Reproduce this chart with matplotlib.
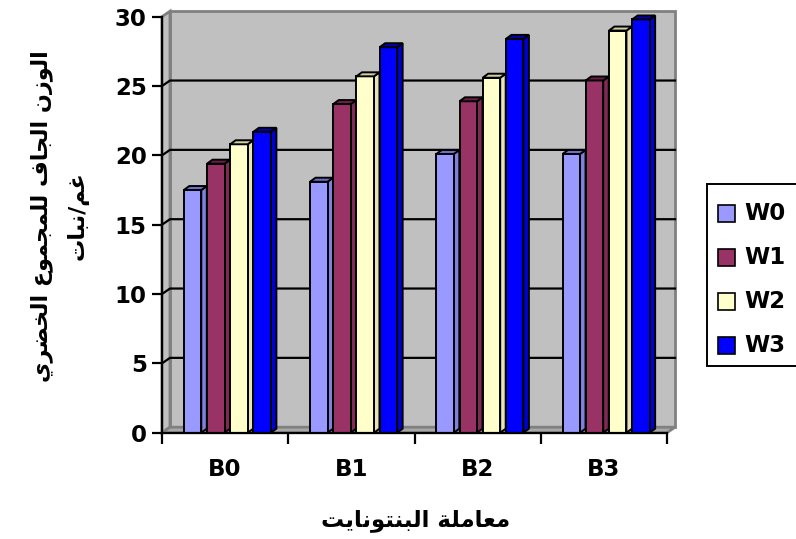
import matplotlib
matplotlib.use("Agg")
import matplotlib.pyplot as plt
from matplotlib.patches import Polygon, Rectangle

groups = ['B0', 'B1', 'B2', 'B3']
series = ['W0', 'W1', 'W2', 'W3']
w0 = [17.5, 18.1, 20.1, 20.1]
w1 = [19.4, 23.7, 23.9, 25.4]
w2 = [20.8, 25.7, 25.6, 29.0]
w3 = [21.7, 27.8, 28.4, 29.8]
values = [w0, w1, w2, w3]
yticks = [0, 5, 10, 15, 20, 25, 30]

ylabel_1 = 'الوزن الجاف للمجموع الخضري'
ylabel_2 = 'غم/نبات'
xlabel = 'معاملة البنتونايت'

# face, side, top colours
colors = [('#9999FF', '#8080E0', '#7070C8'),
          ('#993366', '#802A55', '#6A2046'),
          ('#FFFFCC', '#E4E4B6', '#CFCFA2'),
          ('#0000FF', '#0000D6', '#0000B0')]

# arabic presentation forms: isolated, final, initial, medial
FORMS = {
    'ا': ('\uFE8D', '\uFE8E', None, None),
    'ب': ('\uFE8F', '\uFE90', '\uFE91', '\uFE92'),
    'ة': ('\uFE93', '\uFE94', None, None),
    'ت': ('\uFE95', '\uFE96', '\uFE97', '\uFE98'),
    'ج': ('\uFE9D', '\uFE9E', '\uFE9F', '\uFEA0'),
    'خ': ('\uFEA5', '\uFEA6', '\uFEA7', '\uFEA8'),
    'ر': ('\uFEAD', '\uFEAE', None, None),
    'ز': ('\uFEAF', '\uFEB0', None, None),
    'ض': ('\uFEBD', '\uFEBE', '\uFEBF', '\uFEC0'),
    'ع': ('\uFEC9', '\uFECA', '\uFECB', '\uFECC'),
    'غ': ('\uFECD', '\uFECE', '\uFECF', '\uFED0'),
    'ف': ('\uFED1', '\uFED2', '\uFED3', '\uFED4'),
    'ل': ('\uFEDD', '\uFEDE', '\uFEDF', '\uFEE0'),
    'م': ('\uFEE1', '\uFEE2', '\uFEE3', '\uFEE4'),
    'ن': ('\uFEE5', '\uFEE6', '\uFEE7', '\uFEE8'),
    'و': ('\uFEED', '\uFEEE', None, None),
    'ي': ('\uFEF1', '\uFEF2', '\uFEF3', '\uFEF4'),
}


def shape(text):
    out = []
    for i, ch in enumerate(text):
        if ch not in FORMS:
            out.append(ch)
            continue
        prev = text[i - 1] if i > 0 else ''
        nxt = text[i + 1] if i + 1 < len(text) else ''
        join_prev = prev in FORMS and FORMS[prev][2] is not None
        join_next = nxt in FORMS and FORMS[ch][2] is not None
        iso, fin, ini, med = FORMS[ch]
        if join_prev and join_next:
            out.append(med)
        elif join_prev:
            out.append(fin)
        elif join_next:
            out.append(ini)
        else:
            out.append(iso)
    return ''.join(out)[::-1]


W, H = 796, 539
fig = plt.figure(figsize=(W / 100, H / 100), dpi=100)

left, right, bottom, top = 162, 667, 432.7, 16.7
ax = fig.add_axes([left / W, 1 - bottom / H, (right - left) / W, (bottom - top) / H])
ax.set_xlim(0, len(groups))
ax.set_ylim(0, 30)
ax.patch.set_visible(False)

xpx = (right - left) / len(groups)
ypx = (bottom - top) / 30.0

# back wall, side wall and floor
wdx, wdy = 8 / xpx, 5.5 / ypx
n = len(groups)
wall_kw = dict(facecolor='#C0C0C0', edgecolor='#808080', lw=2, zorder=1, clip_on=False)
ax.add_patch(Rectangle((wdx, wdy), n, 30, **wall_kw))
ax.add_patch(Polygon([(0, 0), (wdx, wdy), (wdx, 30 + wdy), (0, 30)], **wall_kw))
ax.add_patch(Polygon([(0, 0), (n, 0), (n + wdx, wdy), (wdx, wdy)],
                     facecolor='#A8A8A8', edgecolor='#808080', lw=2, zorder=1, clip_on=False))

for t in yticks[1:-1]:
    ax.plot([0, wdx, n + wdx], [t, t + wdy, t + wdy], color='black', lw=1.6,
            zorder=2, clip_on=False)

# 3d bars
off = 21.8 / xpx
pitch = 23.2 / xpx
fw = 17.5 / xpx
bdx, bdy = 5.5 / xpx, 4.0 / ypx
for s, vals in enumerate(values):
    face, side, topc = colors[s]
    for g, v in enumerate(vals):
        x0 = g + off + s * pitch
        x1 = x0 + fw
        ax.add_patch(Polygon([(x1, 0), (x1 + bdx, bdy), (x1 + bdx, v + bdy), (x1, v)],
                             facecolor=side, edgecolor='black', lw=1.4, zorder=3,
                             clip_on=False))
        ax.add_patch(Rectangle((x0, 0), fw, v, facecolor=face, edgecolor='black',
                               lw=1.4, zorder=3, clip_on=False))
        ax.add_patch(Polygon([(x0, v), (x1, v), (x1 + bdx, v + bdy), (x0 + bdx, v + bdy)],
                             facecolor=topc, edgecolor='black', lw=1.4, zorder=3,
                             clip_on=False))

for sp in ['top', 'right']:
    ax.spines[sp].set_visible(False)
for sp in ['left', 'bottom']:
    ax.spines[sp].set_linewidth(1.6)
    ax.spines[sp].set_zorder(5)

font = 'DejaVu Sans'
ax.set_yticks(yticks)
ax.set_yticklabels([str(t) for t in yticks], fontsize=16.5, fontweight='bold', family=font)
ax.tick_params(axis='y', length=7, width=1.6, pad=4)
ax.set_xticks(range(n + 1))
ax.set_xticklabels([])
ax.set_xticks([g + 0.5 for g in range(n)], minor=True)
ax.set_xticklabels(groups, minor=True, fontsize=16.5, fontweight='bold', family=font)
ax.tick_params(axis='x', which='major', length=8, width=1.6)
ax.tick_params(axis='x', which='minor', length=0, pad=18)

# axis titles
ar = dict(family='DejaVu Sans', fontweight='bold', ha='center', va='center')
fig.text(42 / W, 1 - 216 / H, shape(ylabel_1), rotation=90, fontsize=16, **ar)
fig.text(78 / W, 1 - 216 / H, shape(ylabel_2), rotation=90, fontsize=16, **ar)
fig.text(416 / W, 1 - 520 / H, shape(xlabel), fontsize=16.5, **ar)

# legend box
fig.patches.append(Rectangle((707 / W, 1 - 366 / H), 100 / W, 182 / H,
                             transform=fig.transFigure, facecolor='white',
                             edgecolor='black', lw=1.4))
for s, name in enumerate(series):
    yc = 213 + s * 44.2
    fig.patches.append(Rectangle((718 / W, 1 - (yc + 8.5) / H), 17 / W, 17 / H,
                                 transform=fig.transFigure, facecolor=colors[s][0],
                                 edgecolor='black', lw=1.2))
    fig.text(744 / W, 1 - yc / H, name, fontsize=16.5, fontweight='bold', family=font,
             va='center', ha='left')

fig.savefig('out.png', dpi=100)
